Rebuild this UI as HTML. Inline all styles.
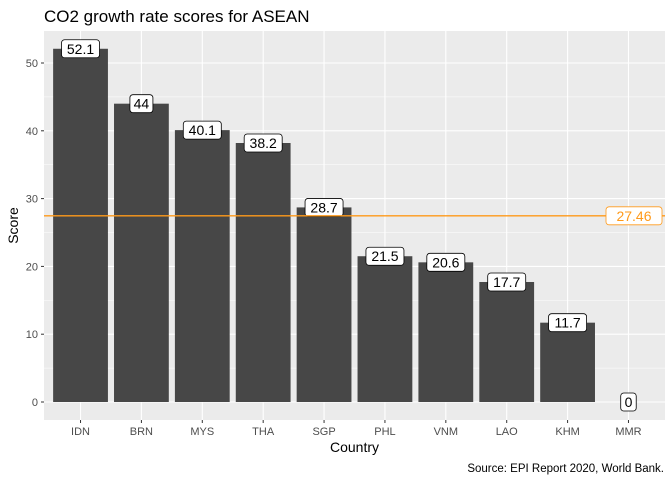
<!DOCTYPE html>
<html><head><meta charset="utf-8"><style>
body{margin:0;background:#fff;font-family:"Liberation Sans",Arial,sans-serif}
</style></head><body>
<svg id="chart" width="672" height="480" xmlns="http://www.w3.org/2000/svg" font-family="Liberation Sans, Arial, sans-serif">
<text x="44" y="22" font-size="17" fill="#000">CO2 growth rate scores for ASEAN</text>
<rect x="44" y="31" width="621" height="389" fill="#ebebeb"/>
<g id="grid"></g><g id="bars"></g><g id="axes"></g>
<text x="354.5" y="452" font-size="14" text-anchor="middle">Country</text>
<text transform="translate(18,225.5) rotate(-90)" font-size="14" text-anchor="middle">Score</text>
<text x="664" y="472" font-size="11.5" text-anchor="end">Source: EPI Report 2020, World Bank.</text>
</svg>
<script>
const categories=["IDN","BRN","MYS","THA","SGP","PHL","VNM","LAO","KHM","MMR"];
const scores=[52.1,44,40.1,38.2,28.7,21.5,20.6,17.7,11.7,0];
const labels=["52.1","44","40.1","38.2","28.7","21.5","20.6","17.7","11.7","0"];
const yTicks=[0,10,20,30,40,50];
const meanValue=27.46;
const meanLabel="27.46";
const NS="http://www.w3.org/2000/svg";
const px0=44,px1=665,py0=31,py1=420;
const step=(px1-px0)/(categories.length+0.2);
const x=i=>px0+step*(0.6+i);
const y=v=>402-v*6.78;
function mk(t,a,p){const e=document.createElementNS(NS,t);for(const k in a)e.setAttribute(k,a[k]);(p||document.getElementById('chart')).appendChild(e);return e;}
const grid=document.getElementById('grid'),bars=document.getElementById('bars'),axes=document.getElementById('axes');
for(let i=0;i<yTicks.length-1;i++){const m=(yTicks[i]+yTicks[i+1])/2;
const g=mk('line',{x1:px0,x2:px1,y1:y(m),y2:y(m),stroke:'#fff','stroke-width':0.5},grid);

}
yTicks.forEach(t=>{
const g=mk('line',{x1:px0,x2:px1,y1:y(t),y2:y(t),stroke:'#fff','stroke-width':1.1},grid);


const tk=mk('line',{x1:px0-3,x2:px0,y1:y(t),y2:y(t),stroke:'#333'},axes);


const tx=mk('text',{x:px0-6,y:y(t)+4,'font-size':11,fill:'#4d4d4d','text-anchor':'end'},axes);tx.textContent=t;


});
categories.forEach((c,i)=>{
const cx=x(i);
const g=mk('line',{x1:cx,x2:cx,y1:py0,y2:py1,stroke:'#fff','stroke-width':1.1},grid);


const bw=step*0.9;
const b=mk('rect',{x:cx-bw/2,y:y(scores[i]),width:bw,height:y(0)-y(scores[i]),fill:'#474747'},bars);


const lw=labels[i].length*7.5+8;
const lb=mk('rect',{x:cx-lw/2,y:y(scores[i])-9,width:lw,height:18,rx:3,fill:'#fff',stroke:'#000','stroke-width':0.8},bars);


const lt=mk('text',{x:cx,y:y(scores[i])+5,'font-size':14,'text-anchor':'middle'},bars);lt.textContent=labels[i];


const tk=mk('line',{x1:cx,x2:cx,y1:py1,y2:py1+3,stroke:'#333'},axes);


const tx=mk('text',{x:cx,y:py1+15,'font-size':11,fill:'#4d4d4d','text-anchor':'middle'},axes);tx.textContent=c;


});
const ml=mk('line',{x1:px0,x2:px1,y1:y(meanValue),y2:y(meanValue),stroke:'#ff9a1a','stroke-width':1.3},bars);


const mb=mk('rect',{x:606,y:y(meanValue)-9,width:56,height:18,rx:3,fill:'#fff',stroke:'#ff9a1a','stroke-width':0.8},bars);


const mt=mk('text',{x:634,y:y(meanValue)+5,'font-size':14,fill:'#ff9a1a','text-anchor':'middle'},bars);mt.textContent=meanLabel;


</script>
</body></html>
